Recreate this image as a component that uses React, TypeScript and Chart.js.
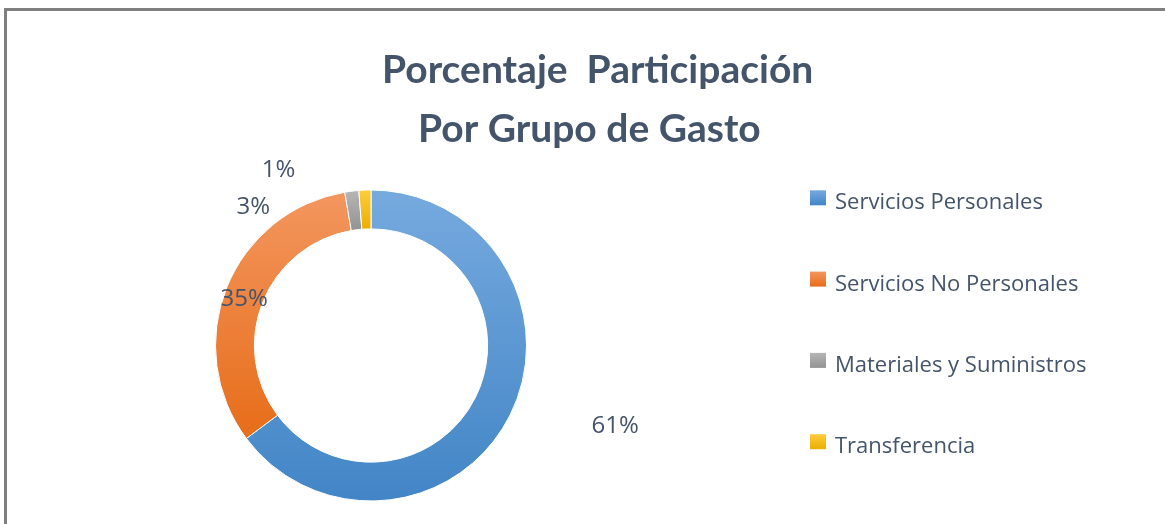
import React, { useEffect, useRef } from "react";
import { Chart, registerables } from "chart.js";

Chart.register(...registerables);

// ---- data ----
const titleLines = ["Porcentaje  Participación", "Por Grupo de Gasto"];
const categories = [
  "Servicios Personales",
  "Servicios No Personales",
  "Materiales y Suministros",
  "Transferencia",
];
// slice sizes as drawn in the picture (percent of the ring)
const shares = [64.8, 32.5, 1.45, 1.25];
// data label texts as printed on the picture
const shareLabels = ["61%", "35%", "3%", "1%"];

// ---- styles ----
const lightColors = ["#76AADF", "#F3965F", "#B5B5B5", "#FFCC3C"];
const darkColors = ["#4285C6", "#E76D19", "#939393", "#EBAE00"];
const textColor = "#44546A";
// label placement (angle clockwise from top in degrees, distance from centre in px)
const labelPlacement = [
  [108.2, 257],
  [290, 135],
  [319.7, 182],
  [332.2, 198],
];

function vGrad(ctx: CanvasRenderingContext2D, y0: number, y1: number, i: number) {
  const g = ctx.createLinearGradient(0, y0, 0, y1);
  g.addColorStop(0, lightColors[i]);
  g.addColorStop(1, darkColors[i]);
  return g;
}

const gradientPlugin = {
  id: "sliceGradients",
  beforeDatasetsDraw(chart: any) {
    const ctx = chart.ctx;
    const meta = chart.getDatasetMeta(0);
    meta.data.forEach((arc: any, i: number) => {
      const { x, y, startAngle, endAngle, innerRadius, outerRadius } = arc.getProps(
        ["x", "y", "startAngle", "endAngle", "innerRadius", "outerRadius"],
        true
      );
      let minY = Infinity;
      let maxY = -Infinity;
      const steps = 120;
      for (let s = 0; s <= steps; s++) {
        const a = startAngle + ((endAngle - startAngle) * s) / steps;
        for (const r of [innerRadius, outerRadius]) {
          const yy = y + r * Math.sin(a);
          if (yy < minY) minY = yy;
          if (yy > maxY) maxY = yy;
        }
      }
      arc.options = { ...arc.options, backgroundColor: vGrad(ctx, minY, maxY, i) };
    });
  },
};

const decorPlugin = {
  id: "decor",
  afterDraw(chart: any) {
    const ctx: CanvasRenderingContext2D = chart.ctx;
    ctx.save();
    // title
    ctx.fillStyle = textColor;
    ctx.font = 'bold 39px "Lato"';
    ctx.textAlign = "left";
    ctx.textBaseline = "alphabetic";
    ctx.fillText(titleLines[0], 382, 83);
    ctx.fillText(titleLines[1], 418, 142);

    // legend
    ctx.font = '22px "Open Sans"';
    categories.forEach((name, i) => {
      const base = 209.3 + i * 81.3;
      const top = base - 19;
      ctx.fillStyle = vGrad(ctx, top, top + 15, i);
      ctx.fillRect(810, top, 16, 15);
      ctx.fillStyle = textColor;
      ctx.fillText(name, 835, base);
    });

    // data labels
    const meta = chart.getDatasetMeta(0);
    const arc0 = meta.data[0];
    const cx = arc0.x;
    const cy = arc0.y;
    ctx.font = '24px "Open Sans"';
    ctx.textAlign = "center";
    ctx.textBaseline = "middle";
    ctx.fillStyle = textColor;
    shareLabels.forEach((t, i) => {
      const [deg, r] = labelPlacement[i];
      const a = (deg * Math.PI) / 180;
      ctx.fillText(t, cx + r * Math.sin(a), cy - r * Math.cos(a));
    });
    ctx.restore();
  },
};

export default function App() {
  const ref = useRef<HTMLCanvasElement>(null);
  useEffect(() => {
    if (!ref.current) return;
    const chart = new Chart(ref.current, {
      type: "doughnut",
      data: {
        labels: categories,
        datasets: [
          {
            data: shares,
            backgroundColor: darkColors,
            borderColor: "#ffffff",
            borderWidth: 1,
            hoverOffset: 0,
          },
        ],
      },
      options: {
        responsive: false,
        maintainAspectRatio: false,
        animation: false,
        cutout: "75%",
        layout: { padding: { left: 215, right: 638, top: 189, bottom: 22 } },
        plugins: {
          legend: { display: false },
          title: { display: false },
          tooltip: { enabled: false },
        },
        events: [],
      },
      plugins: [gradientPlugin, decorPlugin],
    });
    return () => chart.destroy();
  }, []);
  return (
    <div style={{ position: "fixed", left: 0, top: 0, width: 1165, height: 524, background: "#fff", overflow: "hidden" }}>
      <div
        style={{
          position: "absolute",
          left: 4,
          top: 8,
          width: 1200,
          height: 600,
          borderTop: "3px solid #7f7f7f",
          borderLeft: "3px solid #7f7f7f",
          boxSizing: "border-box",
        }}
      />
      <canvas ref={ref} width={1165} height={524} style={{ position: "absolute", left: 0, top: 0, display: "block" }} />
    </div>
  );
}
